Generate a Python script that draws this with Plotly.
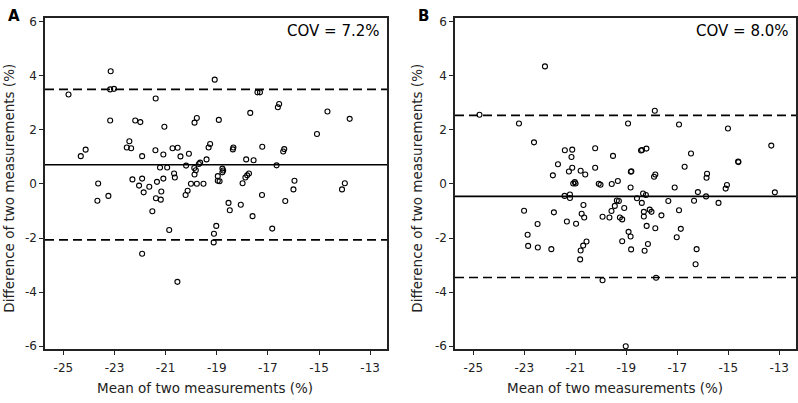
import plotly.graph_objects as go

# ---------------- data ----------------
A_mean = [-24.80, -23.15, -23.17, -23.02, -23.17, -21.39, -24.32, -24.13, -22.52, -22.42,
          -22.35, -22.19, -21.99, -21.92, -21.40, -21.05, -21.09, -20.73, -20.53, -20.42,
          -20.09, -19.87, -19.78, -19.08, -18.92, -19.32, -19.26, -19.40, -19.65, -19.70,
          -20.20, -19.88, -19.82, -19.87, -21.22, -20.94, -20.67, -20.64, -22.30, -21.92,
          -21.34, -21.09, -22.04, -21.86, -21.64, -21.17, -23.64, -23.24, -21.38, -21.19,
          -20.01, -19.78, -19.52, -20.14, -20.22, -18.96, -18.96, -18.89, -18.78, -18.75,
          -18.78, -18.37, -18.35, -17.85, -17.56, -17.74, -17.81, -17.88, -17.99, -17.69,
          -17.41, -17.31, -17.22, -17.23, -16.66, -16.61, -16.56, -16.40, -16.36, -15.96,
          -16.00, -16.32, -15.08, -14.67, -13.80, -13.99, -14.10, -23.67, -21.52, -20.86,
          -21.92, -20.54, -18.54, -18.49, -18.06, -17.60, -19.02, -19.11, -19.12, -16.83]
A_diff = [3.31, 4.17, 3.50, 3.52, 2.35, 3.16, 1.03, 1.27, 1.35, 1.58,
          1.32, 2.35, 2.29, 1.03, 1.25, 2.12, 1.09, 1.32, 1.34, 1.02,
          1.12, 2.27, 2.44, 3.86, 2.37, 1.35, 1.48, 0.91, 0.79, 0.74,
          0.68, 0.59, 0.51, 0.35, 0.61, 0.61, 0.39, 0.24, 0.17, 0.20,
          0.08, 0.20, -0.06, -0.31, -0.10, -0.28, 0.02, -0.44, -0.53, -0.58,
          0.01, 0.01, 0.01, -0.25, -0.41, 0.29, 0.12, 0.10, 0.57, 0.50,
          0.43, 1.28, 1.35, 0.91, 0.88, 0.39, 0.32, 0.24, 0.03, 2.63,
          3.39, 3.39, 1.38, -0.41, 0.69, 2.84, 2.96, 1.20, 1.29, 0.12,
          -0.20, -0.63, 1.85, 2.68, 2.41, 0.03, -0.20, -0.62, -1.01, -1.70,
          -2.58, -3.62, -0.70, -0.97, -0.77, -1.19, -1.55, -1.84, -2.16, -1.65]

B_mean = [-24.76, -23.21, -22.62, -22.19, -21.88, -21.68, -21.41, -21.12, -21.15, -21.12,
          -21.25, -20.79, -20.61, -21.08, -20.99, -21.02, -20.22, -20.22, -20.08, -20.01,
          -19.52, -19.57, -19.33, -18.93, -18.80, -18.82, -18.83, -18.42, -18.38, -18.21,
          -17.88, -17.91, -17.86, -18.34, -18.23, -18.58, -16.93, -17.10, -17.35, -16.46,
          -16.71, -16.19, -16.34, -15.83, -15.85, -15.87, -15.01, -14.61, -14.60, -15.05,
          -15.10, -15.38, -13.31, -13.17, -21.42, -21.21, -21.21, -19.37, -19.29, -23.01,
          -21.84, -22.87, -22.85, -22.48, -22.47, -21.94, -21.33, -20.97, -20.75, -20.65,
          -20.68, -20.79, -20.81, -20.69, -20.56, -19.93, -19.66, -19.58, -19.45, -19.08,
          -19.25, -19.16, -18.91, -18.83, -19.16, -18.81, -19.93, -19.02, -18.39, -18.31,
          -18.31, -18.08, -18.01, -18.20, -17.86, -18.15, -18.28, -17.83, -17.62, -17.02,
          -16.93, -16.86, -16.24, -16.28]
B_diff = [2.56, 2.24, 1.54, 4.35, 0.32, 0.73, 1.25, 1.27, 1.00, 0.60,
          0.46, 0.49, 0.35, 0.02, 0.02, 0.07, 1.32, 0.60, 0.01, -0.03,
          1.04, 0.00, 0.11, 2.24, 0.47, 0.45, -0.13, 1.24, 1.26, 1.31,
          2.71, 0.27, 0.35, -0.35, -0.41, -0.53, 2.20, -0.13, -0.63, 1.13,
          0.64, -0.30, -0.62, 0.38, 0.23, -0.46, 2.05, 0.83, 0.81, -0.04,
          -0.17, -0.70, 1.42, -0.31, -0.44, -0.39, -0.52, -0.61, -0.63, -0.99,
          -1.05, -1.88, -2.29, -1.48, -2.35, -2.41, -1.39, -1.47, -1.10, -1.24,
          -0.78, -2.46, -2.79, -2.28, -2.13, -1.21, -1.24, -1.00, -0.81, -0.89,
          -1.24, -1.31, -1.77, -1.94, -2.12, -2.42, -3.56, -6.00, -0.70, -1.03,
          -1.20, -0.95, -1.03, -1.55, -1.64, -2.22, -2.47, -3.47, -1.16, -1.97,
          -0.97, -1.66, -2.41, -2.97]

A_lines = {"mean": 0.71, "upper": 3.50, "lower": -2.07}
B_lines = {"mean": -0.46, "upper": 2.54, "lower": -3.46}
A_cov = "COV = 7.2%"
B_cov = "COV = 8.0%"
panel_labels = ["A", "B"]

X_TICKS = [-25, -23, -21, -19, -17, -15, -13]
X_TICK_LABELS = ["-25", "-23", "-21", "-19", "-17", "-15", "-13"]
Y_TICKS = [-6, -4, -2, 0, 2, 4, 6]
Y_TICK_LABELS = ["-6", "-4", "-2", "0", "2", "4", "6"]
X_TITLE = "Mean of two measurements (%)"
Y_TITLE = "Difference of two measurements (%)"

# ---------------- layout helpers ----------------
W, H = 798, 403
FONT = "DejaVu Sans, Liberation Sans, Arial, sans-serif"
INK = "#222222"


def px(x):
    return x / W


def py(y):
    return 1 - y / H


fig = go.Figure()
marker = dict(symbol="circle-open", size=5, color="black", line=dict(width=1.1, color="black"))
fig.add_trace(go.Scatter(x=A_mean, y=A_diff, mode="markers", marker=marker,
                         xaxis="x", yaxis="y", showlegend=False, hoverinfo="x+y"))
fig.add_trace(go.Scatter(x=B_mean, y=B_diff, mode="markers", marker=marker,
                         xaxis="x2", yaxis="y2", showlegend=False, hoverinfo="x+y"))

axis_common = dict(
    showgrid=False, zeroline=False, showline=True, mirror=True,
    linecolor=INK, linewidth=1.5, ticks="outside", ticklen=4, tickwidth=1.2,
    tickcolor=INK, tickfont=dict(family=FONT, size=12, color=INK),
)
xr = [-25.72, -12.34]
yr = [-6.1, 6.15]
ydom = [py(352), py(15)]

fig.update_layout(
    width=W, height=H,
    margin=dict(l=0, r=0, t=0, b=0),
    paper_bgcolor="white", plot_bgcolor="white",
    font=dict(family=FONT, color=INK),
    xaxis=dict(domain=[px(45), px(387)], range=xr, tickvals=X_TICKS, ticktext=X_TICK_LABELS,
               anchor="y", ticklabelstandoff=3, **axis_common),
    yaxis=dict(domain=ydom, range=yr, tickvals=Y_TICKS, ticktext=Y_TICK_LABELS,
               anchor="x", **axis_common),
    xaxis2=dict(domain=[px(455), px(796)], range=xr, tickvals=X_TICKS, ticktext=X_TICK_LABELS,
                anchor="y2", ticklabelstandoff=3, **axis_common),
    yaxis2=dict(domain=ydom, range=yr, tickvals=Y_TICKS, ticktext=Y_TICK_LABELS,
                anchor="x2", **axis_common),
)

shapes = []
for xa, ya, lines in (("x", "y", A_lines), ("x2", "y2", B_lines)):
    for key, val in lines.items():
        shapes.append(dict(
            type="line", xref=f"{xa} domain", yref=ya, x0=0, x1=1, y0=val, y1=val,
            line=dict(color="black", width=1.7 if key != "mean" else 1.6,
                      dash="solid" if key == "mean" else "9px,5px"),
            layer="above",
        ))
fig.update_layout(shapes=shapes)

ann = []
# panel letters
ann.append(dict(text="<b>" + panel_labels[0] + "</b>", x=px(6), y=py(13), xref="paper", yref="paper",
                xanchor="left", yanchor="middle", showarrow=False,
                font=dict(family=FONT, size=15, color="black")))
ann.append(dict(text="<b>" + panel_labels[1] + "</b>", x=px(416), y=py(13), xref="paper", yref="paper",
                xanchor="left", yanchor="middle", showarrow=False,
                font=dict(family=FONT, size=15, color="black")))
# COV labels
ann.append(dict(text=A_cov, x=px(382), y=py(29), xref="paper", yref="paper",
                xanchor="right", yanchor="middle", showarrow=False,
                font=dict(family=FONT, size=15, color="black")))
ann.append(dict(text=B_cov, x=px(791), y=py(29), xref="paper", yref="paper",
                xanchor="right", yanchor="middle", showarrow=False,
                font=dict(family=FONT, size=15, color="black")))
# axis titles
for cx in (205, 615):
    ann.append(dict(text=X_TITLE, x=px(cx), y=py(392), xref="paper", yref="paper",
                    xanchor="center", yanchor="middle", showarrow=False,
                    font=dict(family=FONT, size=13.5, color=INK)))
for cx in (9, 417):
    ann.append(dict(text=Y_TITLE, x=px(cx), y=py(189), xref="paper", yref="paper",
                    xanchor="center", yanchor="middle", showarrow=False, textangle=-90,
                    font=dict(family=FONT, size=13.5, color=INK)))
fig.update_layout(annotations=ann)

fig.write_html(
    "out.html",
    config={"displayModeBar": False},
    post_script="document.body.style.margin='0';document.body.style.padding='0';"
                "document.body.style.overflow='hidden';",
)
